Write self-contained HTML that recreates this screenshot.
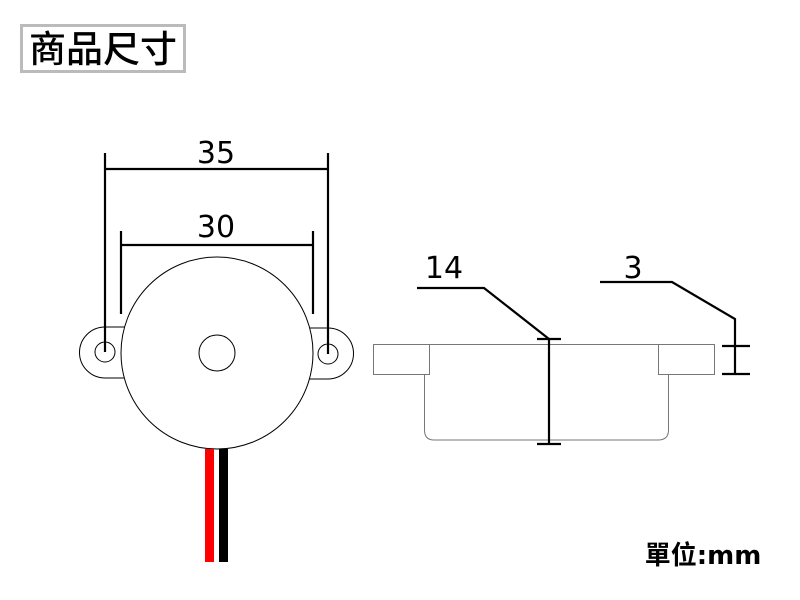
<!DOCTYPE html>
<html><head><meta charset="utf-8"><style>
body{margin:0;width:800px;height:600px;background:#fff;overflow:hidden}
svg{position:absolute;left:0;top:0}
</style></head><body>
<svg width="800" height="600" viewBox="0 0 800 600" xmlns="http://www.w3.org/2000/svg">
<rect x="21.5" y="25.5" width="163" height="46" fill="#fff" stroke="#bbb" stroke-width="3"/>
<text x="103" y="62" font-size="37" font-weight="500" text-anchor="middle" font-family="Noto Sans CJK TC, sans-serif" fill="#000">商品尺寸</text>
<g fill="none" stroke="#000" stroke-width="1">
<path d="M125 327 H105 A25.5 25.5 0 0 0 105 378 H125"/>
<path d="M309 328 H328 A25.5 25.5 0 0 1 328 379 H309"/>
<circle cx="105" cy="352" r="10"/>
<circle cx="328" cy="354" r="10"/>
<circle cx="217" cy="353" r="96" fill="#fff"/>
<circle cx="217" cy="353" r="18"/>
</g>
<g stroke="#000" stroke-width="2.2" fill="none">
<path d="M105 153 V352 M328 153 V354 M105 169 H328"/>
<path d="M121 231 V314 M313 231 V314 M121 245 H313"/>
</g>
<rect x="205" y="449" width="9" height="113" fill="#f00"/>
<rect x="219" y="449" width="9" height="113" fill="#000"/>
<g font-family="DejaVu Sans, sans-serif" font-size="30" fill="#000" text-anchor="middle">
<text x="216" y="163">35</text>
<text x="216" y="237">30</text>
<text x="444" y="278">14</text>
<text x="633" y="278">3</text>
</g>
<g fill="none" stroke="#777" stroke-width="1">
<rect x="373.5" y="344.5" width="56" height="30"/>
<rect x="658.5" y="344.5" width="56" height="30"/>
<path d="M429 344.5 H658"/>
<path d="M424.5 375 V430 Q424.5 440 434 440 H658 Q668.5 440 668.5 430 V375"/>
</g>
<g stroke="#000" stroke-width="2.2" fill="none">
<path d="M417 288 H484 L549 339"/>
<path d="M549 339 V444 M537 339 H561 M537 444 H561"/>
<path d="M600 282 H672 L735 319 V374 M722 346 H750 M722 374 H750"/>
</g>
<text x="703" y="564" font-size="26" font-weight="bold" text-anchor="middle" font-family="DejaVu Sans, Noto Sans CJK TC, sans-serif" fill="#000">單位:mm</text>
</svg>
</body></html>
